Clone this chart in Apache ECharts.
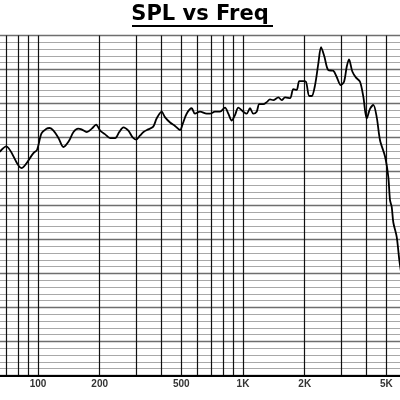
<!DOCTYPE html>
<html>
<head>
<meta charset="utf-8">
<script src="https://cdn.jsdelivr.net/npm/echarts@6/dist/echarts.min.js"></script>
<style>
    html, body { margin: 0; padding: 0; background: #fff; }
    #spl_chart { width: 400px; height: 400px; }
</style>
</head>
<body>
<div id="spl_chart"></div>
<script>
// frequency (Hz) and SPL (dB)
var freqs = [65, 70, 83, 95, 99, 104, 110, 114, 119, 126, 133, 141, 149, 157, 163, 173, 183, 192,
    201, 212, 225, 238, 249, 261, 276, 290, 301, 315, 327, 345, 365, 379, 401, 416, 441, 466,
    493, 508, 531, 562, 583, 617, 665, 690, 730, 772, 817, 848, 881, 914, 949, 1003, 1042,
    1082, 1122, 1166, 1201, 1256, 1305, 1354, 1405, 1487, 1545, 1603, 1696, 1760, 1828, 1882,
    1969, 2029, 2106, 2164, 2246, 2331, 2403, 2494, 2608, 2757, 2865, 2997, 3110, 3206, 3289,
    3414, 3559, 3722, 3863, 4013, 4164, 4322, 4490, 4660, 4930, 5114, 5213, 5314, 5411, 5621, 5787, 5950];
var spl = [82.9, 83.7, 80.5, 82.7, 83.2, 85.6, 86.3, 86.4, 86.0, 84.9, 83.6, 84.4, 85.8, 86.3, 86.2, 85.8, 86.3, 86.9,
    86.0, 85.5, 84.9, 84.9, 85.8, 86.5, 86.0, 85.0, 84.7, 85.3, 85.8, 86.2, 86.6, 87.8, 88.8, 88.0, 87.2, 86.7,
    86.1, 87.0, 88.5, 89.3, 88.5, 88.8, 88.5, 88.5, 88.8, 88.8, 89.4, 88.5, 87.5, 88.3, 89.4, 88.8, 88.5,
    89.3, 88.5, 88.8, 89.9, 89.9, 90.2, 90.6, 90.5, 90.9, 90.5, 90.9, 90.8, 92.1, 92.0, 93.3,
    93.3, 93.2, 91.1, 91.1, 92.7, 95.9, 98.3, 96.9, 94.9, 94.8, 93.9, 92.7, 93.2, 95.4, 96.5,
    94.7, 93.8, 93.2, 91.0, 87.8, 89.2, 89.8, 88.0, 84.6, 82.2, 79.2, 75.8, 74.8, 72.5, 70.4, 67.0, 64.5];

var gridFreqs = [70, 80, 90, 100, 200, 300, 400, 500, 600, 700, 800, 900, 1000, 2000, 3000, 4000, 5000];
var labelFreqs = [100, 200, 500, 1000, 2000, 5000];
var labelTexts = ['100', '200', '500', '1K', '2K', '5K'];

var lg = function (f) { return Math.log10(f); };

var points = [];
for (var i = 0; i < freqs.length; i++) {
    points.push([lg(freqs[i]), spl[i]]);
}

var myChart = echarts.init(document.getElementById('spl_chart'));
var option = {
    animation: false,
    title: {
        text: 'SPL vs Freq',
        left: 'center',
        top: -1,
        textStyle: {
            fontFamily: 'DejaVu Sans, sans-serif',
            fontWeight: 'bold',
            fontSize: 21,
            color: '#000'
        }
    },
    // underline under the title
    graphic: [{
        type: 'line',
        shape: { x1: 132, y1: 26, x2: 273, y2: 26 },
        style: { stroke: '#000', lineWidth: 2 }
    }],
    grid: { left: 0, right: 0, top: 35.5, bottom: 24.5 },
    xAxis: {
        type: 'value',
        min: 2 - 38 / 205,
        max: 2 + 362 / 205,
        axisLine: { show: true, onZero: false, lineStyle: { color: '#000', width: 2 } },
        axisTick: { show: false, customValues: gridFreqs.map(lg) },
        splitLine: { show: true, lineStyle: { color: '#111', width: 1.2 } },
        axisLabel: {
            customValues: labelFreqs.map(lg),
            margin: 4,
            fontSize: 10,
            fontWeight: 'bold',
            fontFamily: 'Liberation Sans, Arial, sans-serif',
            color: '#333',
            formatter: function (v) {
                for (var k = 0; k < labelFreqs.length; k++) {
                    if (Math.abs(lg(labelFreqs[k]) - v) < 1e-6) return labelTexts[k];
                }
                return '';
            }
        }
    },
    yAxis: {
        type: 'value',
        min: 50,
        max: 100,
        interval: 5,
        axisLine: { show: false },
        axisTick: { show: false },
        axisLabel: { show: false },
        splitLine: { show: true, lineStyle: { color: '#6e6e6e', width: 1.3 } },
        minorTick: { show: false, splitNumber: 5 },
        minorSplitLine: { show: true, lineStyle: { color: '#a8a8a8', width: 1.2 } }
    },
    series: [{
        type: 'line',
        data: points,
        showSymbol: false,
        smooth: 0.3,
        clip: true,
        lineStyle: { color: '#000', width: 1.8 }
    }]
};
myChart.setOption(option);
</script>
</body>
</html>
